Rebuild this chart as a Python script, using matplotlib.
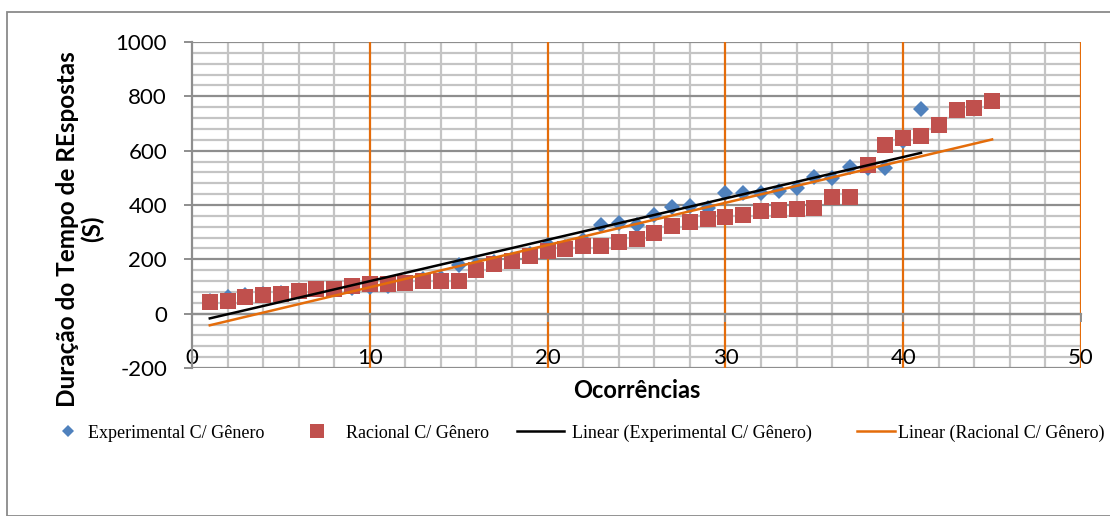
import numpy as np
import matplotlib
matplotlib.use("Agg")
import matplotlib.pyplot as plt
from matplotlib.lines import Line2D
from matplotlib.patches import Rectangle

plt.rcParams["axes.unicode_minus"] = False

# ---- data ----
exp_x = list(range(1, 42))
exp_y = [45, 61, 67, 73, 76, 85, 90, 92, 93, 99,
         103, 112, 129, 132, 180, 179, 190, 203, 220, 251,
         245, 272, 328, 333, 327, 364, 391, 397, 390, 444,
         446, 444, 452, 462, 503, 500, 539, 535, 536, 634,
         755]
rac_x = list(range(1, 46))
rac_y = [43, 45, 61, 69, 71, 85, 91, 92, 100, 109,
         110, 113, 120, 119, 119, 162, 183, 195, 213, 229,
         238, 248, 248, 262, 274, 297, 321, 337, 349, 354,
         364, 379, 382, 385, 388, 429, 429, 548, 621, 646,
         654, 694, 750, 758, 781]
x_ticks = [0, 10, 20, 30, 40, 50]
y_ticks = [-200, 0, 200, 400, 600, 800, 1000]
labels = ["Experimental C/ Gênero", "Racional C/ Gênero",
          "Linear (Experimental C/ Gênero)", "Linear (Racional C/ Gênero)"]

BLUE = "#4F81BD"
RED = "#C0504D"
ORANGE = "#E46C0A"
GRID_MAJ = "#8E8E8E"
GRID_MIN = "#C4C4C4"

W, H = 1110, 516
fig = plt.figure(figsize=(W / 100, H / 100), dpi=100)
fig.patch.set_facecolor("white")

# outer chart border
fig.patches.append(Rectangle((7 / W, 0), 1.2, 1 - 12 / H, transform=fig.transFigure,
                             fill=False, edgecolor="#8A8A8A", linewidth=1.3))

ax = fig.add_axes([192 / W, (H - 368) / H, 889 / W, 326 / H])
ax.set_xlim(0, 50)
ax.set_ylim(-200, 1000)

# grid
ax.set_xticks(x_ticks)
ax.set_yticks(y_ticks)
for yv in np.arange(-200, 1001, 40):
    if yv % 200 != 0:
        ax.axhline(yv, color=GRID_MIN, lw=1.6, zorder=0)
for xv in np.arange(0, 51, 2):
    if xv % 10 != 0:
        ax.axvline(xv, color=GRID_MIN, lw=1.6, zorder=0)
for yv in y_ticks:
    ax.axhline(yv, color=GRID_MAJ, lw=1.6, zorder=0.5)
for xv in x_ticks[1:]:
    ax.axvline(xv, color=ORANGE, lw=1.6, zorder=0.6)

for s in ["top", "right"]:
    ax.spines[s].set_visible(False)
ax.spines["left"].set_color(GRID_MAJ)
ax.spines["left"].set_linewidth(1.6)
ax.spines["bottom"].set_position(("data", 0))
ax.spines["bottom"].set_color(GRID_MAJ)
ax.spines["bottom"].set_linewidth(1.6)

ax.tick_params(axis="y", which="major", direction="out", length=6, width=1.4,
               color=GRID_MAJ, pad=12, labelsize=16)
ax.tick_params(axis="x", which="major", direction="out", length=6, width=1.4,
               color=GRID_MAJ, pad=19, labelsize=16)
for lab in ax.get_xticklabels() + ax.get_yticklabels():
    lab.set_fontfamily("Lato")

# data
ax.plot(exp_x, exp_y, linestyle="none", marker="D", ms=8.5, color=BLUE,
        markeredgewidth=0, zorder=3)
ax.plot(rac_x, rac_y, linestyle="none", marker="s", ms=11.3, color=RED,
        markeredgewidth=0, zorder=4)

# linear trendlines
pe = np.polyfit(exp_x, exp_y, 1)
pr = np.polyfit(rac_x, rac_y, 1)
xe = np.array([exp_x[0], exp_x[-1]])
xr = np.array([rac_x[0], rac_x[-1]])
ax.plot(xe, np.polyval(pe, xe), color="black", lw=1.8, zorder=5)
ax.plot(xr, np.polyval(pr, xr), color=ORANGE, lw=1.8, zorder=5)

ax.set_xlabel("Ocorrências", fontsize=17, fontweight="bold", fontfamily="Lato",
              labelpad=0)
ax.xaxis.set_label_coords(0.5, -(379 - 368) / 326)
ax.set_ylabel("Duração do Tempo de REspostas\n(S)", fontsize=17.5, fontweight="bold",
              fontfamily="Lato", linespacing=1.1)
ax.yaxis.set_label_coords(-(192 - 104) / 889, (368 - 229) / 326)

# legend entries placed one by one
FS = 13
em = FS * 100 / 72
entries = [
    (Line2D([], [], linestyle="none", marker="D", ms=6.5, color=BLUE, markeredgewidth=0),
     labels[0], 60, 16.8, 88),
    (Line2D([], [], linestyle="none", marker="s", ms=9.5, color=RED, markeredgewidth=0),
     labels[1], 309, 16.8, 346),
    (Line2D([], [], color="black", lw=1.8), labels[2], 517, 47, 572),
    (Line2D([], [], color=ORANGE, lw=1.8), labels[3], 857, 38, 898),
]
for h, lab, x0, hl, xt in entries:
    fig.legend([h], [lab], loc="center left", bbox_to_anchor=(x0 / W, 1 - 433 / H),
               frameon=False, prop={"family": "Liberation Serif", "size": FS},
               handlelength=hl / em, handletextpad=(xt - x0 - hl) / em,
               borderpad=0, borderaxespad=0)

fig.savefig("out.png", dpi=100)
